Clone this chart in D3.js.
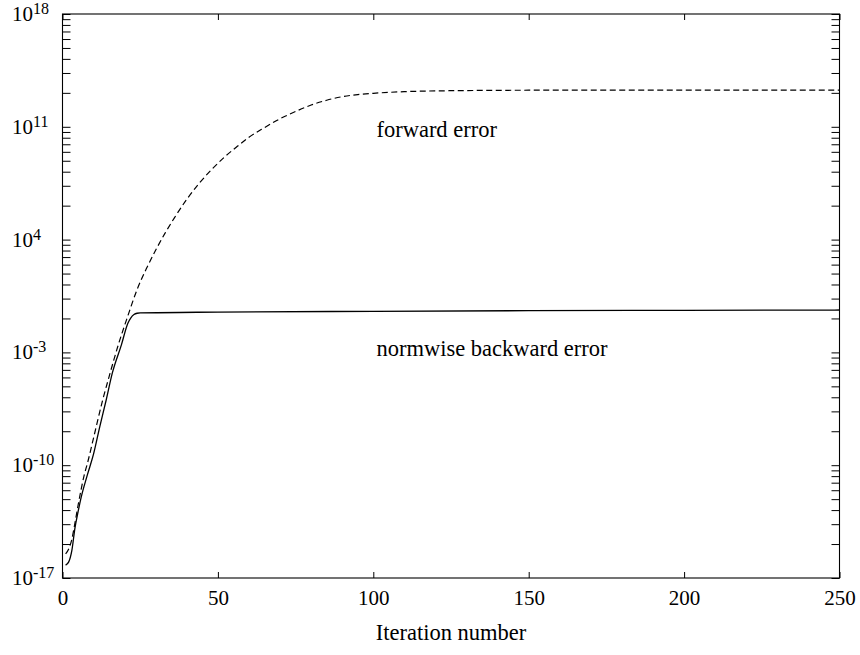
<!DOCTYPE html>
<html>
<head>
<meta charset="utf-8">
<script src="https://cdn.jsdelivr.net/npm/d3@7/dist/d3.min.js"></script>
<style>
  html, body { margin: 0; padding: 0; background: #fff; }
  svg { display: block; }
  text { font-family: "Liberation Serif", "Times New Roman", Times, serif; fill: #000; }
</style>
</head>
<body>
<svg id="chart" width="860" height="655"></svg>
<script>
// ---- data ----
const xTickValues = [0, 50, 100, 150, 200, 250];
const yMajorExponents = [-17, -10, -3, 4, 11, 18];
const yTickLabels = ["-17", "-10", "-3", "4", "11", "18"];

// normwise backward error: iteration and log10(error)
const backwardIter = [1, 2, 3, 4, 5, 6, 8, 10, 12, 14, 16, 19, 21, 22, 23, 24, 25, 50, 100, 150, 200, 250];
const backwardLog  = [-16.2, -16.0, -15.3, -13.9, -12.9, -12.0, -10.6, -9.3, -7.6, -6.0, -4.3, -2.5, -1.2, -0.85, -0.65, -0.57, -0.55, -0.5, -0.45, -0.41, -0.39, -0.37];

// forward error: iteration and log10(error)
const forwardIter = [1, 2, 3, 4, 5, 6, 7, 8, 10, 13, 15, 18, 21, 24, 27, 30, 33, 36, 40, 44, 48, 52, 56, 60, 65, 70, 75, 80, 85, 90, 95, 100, 110, 125, 150, 200, 250];
const forwardLog  = [-15.5, -15.2, -14.6, -13.6, -12.5, -11.5, -10.6, -9.9, -8.3, -5.9, -4.5, -2.5, -0.75, 0.9, 2.2, 3.35, 4.4, 5.35, 6.5, 7.5, 8.35, 9.1, 9.75, 10.35, 10.95, 11.5, 11.95, 12.35, 12.65, 12.87, 13.0, 13.08, 13.18, 13.24, 13.27, 13.28, 13.28];

const annotations = ["forward error", "normwise backward error"];
const annotationIter = [101, 101];
const annotationLog = [10.37, -3.22];
const xTitle = "Iteration number";

// ---- layout ----
const mLeft = 62.5, mRight = 839.5, mTop = 14, mBottom = 578;
const svg = d3.select("#chart");

const x = d3.scaleLinear().domain([0, 250]).range([mLeft, mRight]);
const y = d3.scaleLog().domain([1e-17, 1e18]).range([mBottom, mTop]);

// tick values: majors every 7 decades, minors at major * k^7 (k = 2..9)
const yTicks = [];
yMajorExponents.forEach((e, i) => {
  yTicks.push(Math.pow(10, e));
  if (i < yMajorExponents.length - 1) {
    for (let k = 2; k <= 9; k++) yTicks.push(Math.pow(10, e + 7 * Math.log10(k)));
  }
});

// frame
svg.append("rect")
  .attr("x", mLeft).attr("y", mTop)
  .attr("width", mRight - mLeft).attr("height", mBottom - mTop)
  .attr("fill", "none").attr("stroke", "#000").attr("stroke-width", 1.1);

function styleAxis(g) {
  g.select(".domain").remove();
  g.selectAll(".tick line").attr("stroke", "#000").attr("stroke-width", 1);
}

// bottom axis
svg.append("g")
  .attr("transform", `translate(0,${mBottom})`)
  .call(d3.axisBottom(x).tickValues(xTickValues).tickSize(-6).tickSizeOuter(0).tickPadding(12).tickFormat(d3.format("d")))
  .call(styleAxis)
  .call(g => g.selectAll(".tick text").attr("font-size", 21).attr("font-family", "Liberation Serif, Times New Roman, serif").attr("fill", "#000"));

// top axis (mirrored ticks, no labels)
svg.append("g")
  .attr("transform", `translate(0,${mTop})`)
  .call(d3.axisTop(x).tickValues(xTickValues).tickSize(-6).tickSizeOuter(0).tickFormat(""))
  .call(styleAxis);

// left axis ticks
svg.append("g")
  .attr("transform", `translate(${mLeft},0)`)
  .call(d3.axisLeft(y).tickValues(yTicks).tickSize(-8).tickSizeOuter(0).tickFormat(""))
  .call(styleAxis);

// right axis ticks
svg.append("g")
  .attr("transform", `translate(${mRight},0)`)
  .call(d3.axisRight(y).tickValues(yTicks).tickSize(-8).tickSizeOuter(0).tickFormat(""))
  .call(styleAxis);

// y labels (10^n), left-aligned
yMajorExponents.forEach((e, i) => {
  const t = svg.append("text")
    .attr("x", 12)
    .attr("y", y(Math.pow(10, e)) + 7)
    .attr("font-size", 21);
  t.append("tspan").text("10");
  t.append("tspan").attr("font-size", 16).attr("dy", -7).text(yTickLabels[i]);
});

// curves
const line = d3.line()
  .x(d => x(d[0]))
  .y(d => y(Math.pow(10, d[1])))
  .curve(d3.curveMonotoneX);

const forwardData = forwardIter.map((v, i) => [v, forwardLog[i]]);
const backwardData = backwardIter.map((v, i) => [v, backwardLog[i]]);

svg.append("path")
  .datum(forwardData)
  .attr("d", line)
  .attr("fill", "none")
  .attr("stroke", "#000")
  .attr("stroke-width", 1.2)
  .attr("stroke-dasharray", "6,3.5");

svg.append("path")
  .datum(backwardData)
  .attr("d", line)
  .attr("fill", "none")
  .attr("stroke", "#000")
  .attr("stroke-width", 1.3);

// annotations
annotations.forEach((txt, i) => {
  svg.append("text")
    .attr("x", x(annotationIter[i]))
    .attr("y", y(Math.pow(10, annotationLog[i])))
    .attr("font-size", 22.5)
    .text(txt);
});

// x title
svg.append("text")
  .attr("x", (mLeft + mRight) / 2)
  .attr("y", 640)
  .attr("text-anchor", "middle")
  .attr("font-size", 22.5)
  .text(xTitle);
</script>
</body>
</html>
